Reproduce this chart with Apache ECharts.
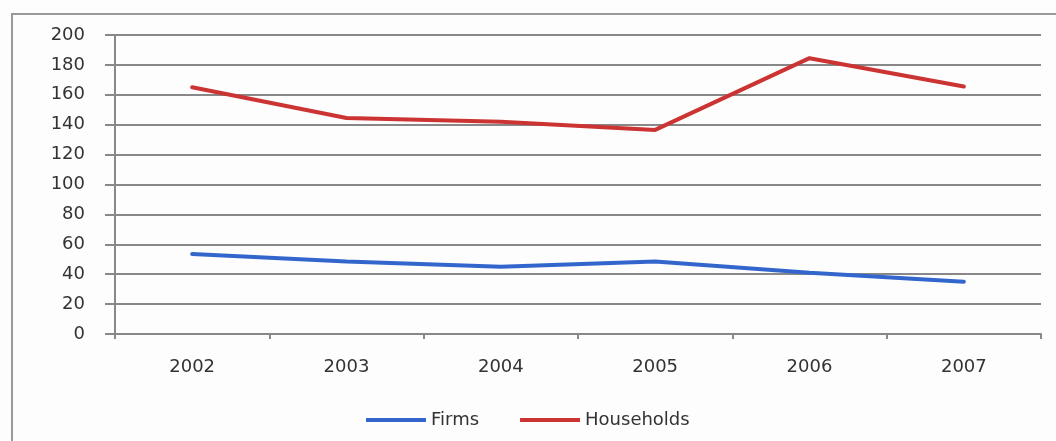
<!DOCTYPE html>
<html>
<head>
<meta charset="utf-8">
<script src="https://cdn.jsdelivr.net/npm/echarts@6/dist/echarts.min.js"></script>
<style>
html,body{margin:0;padding:0;background:#fff;}
#chart{width:1056px;height:441px;}
</style>
</head>
<body>
<div id="chart"></div>
<script>
const categories = ['2002', '2003', '2004', '2005', '2006', '2007'];
const firms = [53.5, 48.5, 45, 48.5, 41, 35];
const households = [165, 144.5, 142, 136.5, 184.5, 165.5];
const yTicks = { min: 0, max: 200, interval: 20 };

const chart = echarts.init(document.getElementById('chart'));
const font = 'DejaVu Sans';
chart.setOption({
  animation: false,
  backgroundColor: '#fdfdfd',
  graphic: [{
    type: 'rect',
    shape: { x: 12, y: 14, width: 1100, height: 500 },
    style: { fill: 'none', stroke: '#9a9a9a', lineWidth: 2 },
    silent: true
  }],
  grid: { left: 115, top: 35, right: 15, bottom: 107 },
  legend: {
    left: 361, top: 406,
    icon: 'rect',
    itemWidth: 60, itemHeight: 4,
    itemGap: 41,
    textStyle: { fontFamily: font, fontSize: 18, color: '#333' },
    data: ['Firms', 'Households']
  },
  xAxis: {
    type: 'category',
    data: categories,
    boundaryGap: true,
    axisLine: { lineStyle: { color: '#888', width: 2 } },
    axisTick: { show: true, length: 5, lineStyle: { color: '#888', width: 2 }, alignWithLabel: false },
    axisLabel: { fontFamily: font, fontSize: 18, color: '#333', margin: 24 },
    splitLine: { show: false }
  },
  yAxis: {
    type: 'value',
    min: yTicks.min, max: yTicks.max, interval: yTicks.interval,
    axisLine: { show: true, lineStyle: { color: '#888', width: 2 } },
    axisTick: { show: true, length: 10, lineStyle: { color: '#888', width: 2 } },
    axisLabel: { fontFamily: font, fontSize: 18, color: '#333', margin: 30 },
    splitLine: { show: true, lineStyle: { color: '#888', width: 2 } }
  },
  series: [
    {
      name: 'Firms', type: 'line', data: firms,
      showSymbol: false, symbol: 'none',
      lineStyle: { color: '#3366cc', width: 4, cap: 'round' },
      itemStyle: { color: '#3366cc' }
    },
    {
      name: 'Households', type: 'line', data: households,
      showSymbol: false, symbol: 'none',
      lineStyle: { color: '#cc3333', width: 4, cap: 'round' },
      itemStyle: { color: '#cc3333' }
    }
  ]
});
</script>
</body>
</html>
